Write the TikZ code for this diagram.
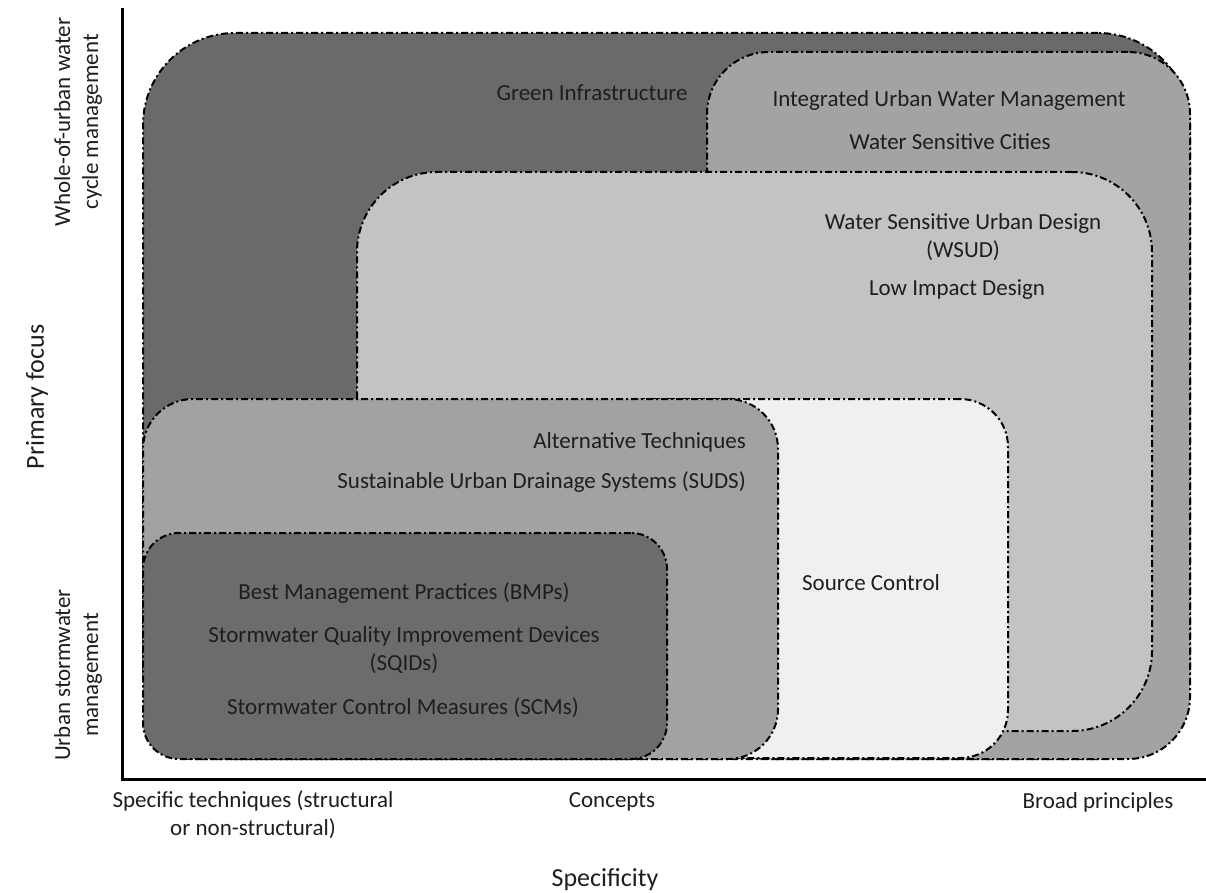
\documentclass[tikz,border=0pt]{standalone}
\usepackage{fontspec}
\setmainfont{Carlito}
\definecolor{giC}{RGB}{106,106,106}
\definecolor{iuwmC}{RGB}{163,163,163}
\definecolor{wsudC}{RGB}{195,195,195}
\definecolor{scC}{RGB}{240,240,240}
\definecolor{sudsC}{RGB}{162,162,162}
\definecolor{bmpC}{RGB}{108,108,108}
\definecolor{txtC}{RGB}{30,30,30}
\tikzset{
  zone/.style={draw=black, line width=2pt, dash pattern=on 7pt off 3pt on 2pt off 3pt,
    rectangle, inner sep=0pt, outer sep=0pt},
  lbl/.style={text=txtC, font=\fontsize{23}{28}\selectfont, inner sep=0pt, align=center},
  axtitle/.style={text=txtC, font=\fontsize{26}{32}\selectfont, inner sep=0pt, align=center},
  axisline/.style={draw=black, line width=3pt}
}
\begin{document}
\begin{tikzpicture}[x=1pt,y=-1pt]
\useasboundingbox[fill=white] (0,0) rectangle (1206,893);
% zones, back to front
\node[zone, fill=giC, minimum width=1047pt, minimum height=726pt, rounded corners=92pt] (gi) at (666.5,396) {};
\node[zone, fill=iuwmC, minimum width=483pt, minimum height=707pt, rounded corners=62pt] (iuwm) at (948.5,405.5) {};
\node[zone, fill=wsudC, minimum width=795pt, minimum height=559pt, rounded corners=80pt] (wsud) at (754.5,451.5) {};
\node[zone, fill=scC, minimum width=408pt, minimum height=359pt, rounded corners=48pt] (sc) at (804,578.5) {};
\node[zone, fill=sudsC, minimum width=635pt, minimum height=360pt, rounded corners=50pt] (suds) at (460.5,579) {};
\node[zone, fill=bmpC, minimum width=524pt, minimum height=226pt, rounded corners=36pt] (bmp) at (405,646) {};
% axes
\coordinate (ytop) at (122,8);
\coordinate (origin) at (122,779);
\coordinate (xend) at (1206,779);
\draw[axisline] (ytop) -- (origin) -- (xend);
% zone labels
\node[lbl] (tgi) at (592,93) {Green Infrastructure};
\node[lbl] (tiuwm) at (949,100) {Integrated Urban Water Management};
\node[lbl] (twsc) at (950,142) {Water Sensitive Cities};
\node[lbl] (twsud) at (963,237) {Water Sensitive Urban Design\\(WSUD)};
\node[lbl] (tlid) at (957,290) {Low Impact Design};
\node[lbl, anchor=east] (talt) at (746,442) {Alternative Techniques};
\node[lbl, anchor=east] (tsuds) at (746,482) {Sustainable Urban Drainage Systems (SUDS)};
\node[lbl] (tsc) at (871,583) {Source Control};
\node[lbl] (tbmp) at (404,593) {Best Management Practices (BMPs)};
\node[lbl] (tsqid) at (404,650) {Stormwater Quality Improvement Devices\\(SQIDs)};
\node[lbl] (tscm) at (403,708) {Stormwater Control Measures (SCMs)};
% axis labels
\node[lbl] (xspec) at (253,815) {Specific techniques (structural\\or non-structural)};
\node[lbl] (xconc) at (612,802) {Concepts};
\node[lbl] (xbroad) at (1098,802) {Broad principles};
\node[axtitle] (xtitle) at (605,880) {Specificity};
\node[axtitle, rotate=90] (ytitle) at (37,397) {Primary focus};
\node[lbl, rotate=90] (ywhole) at (78,122) {Whole-of-urban water\\cycle management};
\node[lbl, rotate=90] (yurban) at (78,675) {Urban stormwater\\management};
\end{tikzpicture}
\end{document}
